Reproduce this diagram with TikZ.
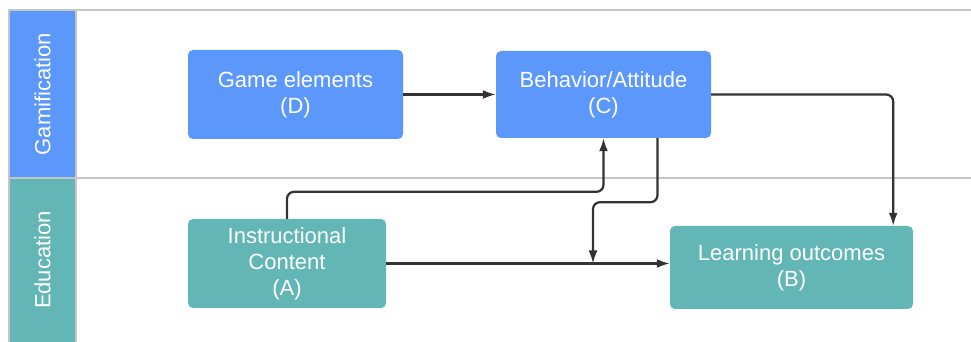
\documentclass[tikz,border=0pt]{standalone}
\usepackage{fontspec}
\setmainfont{Liberation Sans}
\usetikzlibrary{arrows.meta,calc}
\definecolor{gamblue}{HTML}{5C97FC}
\definecolor{eduteal}{HTML}{62B6B5}
\definecolor{lanegrey}{HTML}{C6C6C6}
\definecolor{linkdark}{HTML}{333333}
\begin{document}
\begin{tikzpicture}[x=1pt,y=1pt,
        box/.style={rounded corners=5pt,text=white,align=center,font=\fontsize{22}{26}\selectfont},
        link/.style={draw=linkdark,line width=2.2pt,rounded corners=7pt,-{Latex[length=13pt,width=9pt]}},
        lane/.style={draw=lanegrey,line width=1.5pt}]
            \useasboundingbox (0,0) rectangle (971,342);
            \fill[gamblue] (9,164) rectangle (76,332);
            \fill[eduteal] (9,0) rectangle (76,164);
            \draw[lane] (9,0) -- (9,332) -- (971,332);
            \draw[lane] (9,164) -- (971,164);
            \draw[lane] (76,0) -- (76,332);
            \node[rotate=90,text=white,font=\fontsize{22}{26}\selectfont] (gam) at (42.5,248) {Gamification};
            \node[rotate=90,text=white,font=\fontsize{22}{26}\selectfont] (edu) at (42.5,82) {Education};

            \node[box,fill=gamblue,minimum width=215pt,minimum height=89pt] (D) at (295.5,247.5) {Game elements\\(D)};
            \node[box,fill=gamblue,minimum width=215pt,minimum height=87pt] (C) at (603.5,247.5) {Behavior/Attitude\\(C)};
            \node[box,fill=eduteal,minimum width=198pt,minimum height=89pt] (A) at (287,78.5) {Instructional\\Content\\(A)};
            \node[box,fill=eduteal,minimum width=243pt,minimum height=83pt] (B) at (791.5,74.5) {Learning outcomes\\(B)};
            \coordinate (J) at (593,78.5);

            \draw[link] (D) to (C);
            \draw[link] (C.east) -| ([xshift=-20pt]B.north east);
            \draw[link] (A.north) -- ++(0,27) -| (C.south);
            \draw[link] ([xshift=54pt]C.south) -- ++(0,-64) -| (J);
            \draw[link] (A.east) -- (A.east -| B.west);
        \end{tikzpicture}
\end{document}
